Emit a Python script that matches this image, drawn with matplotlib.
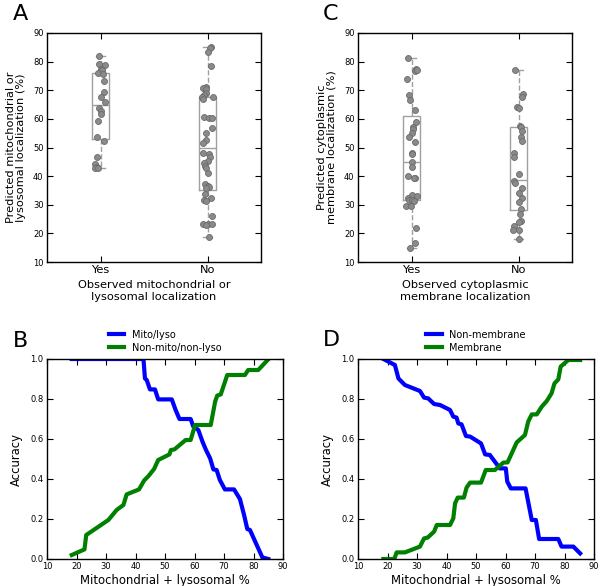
import numpy as np
from matplotlib import pyplot as plt

# panel A: predicted mito/lyso % for observed Yes / No
a_yes = [82, 79.1, 78.9, 77.5, 76.9, 76.2, 75.8, 73.4, 69.3, 67.8, 65.8, 63.7,
         62.8, 61.6, 59.1, 53.6, 52.4, 46.8, 44.1, 43.3, 42.9, 42.9]
a_yes_jit = [-0.01, -0.015, 0.04, 0.005, 0.015, -0.02, 0.02, 0.035, 0.03, 0.0, 0.04, -0.01,
             0.005, 0.0, -0.025, -0.03, 0.035, -0.035, -0.055, -0.035, -0.055, -0.02]
a_no = [85, 84.7, 83.3, 78.3, 71.1, 70.7, 70.4, 69, 68.4, 67.8, 67.8, 66.9, 60.8, 60.2,
        60.2, 56.7, 55.2, 52.6, 51.7, 48, 47.7, 46.6, 45.3, 44.5, 43.6, 42.7, 41.2, 37.1,
        36.6, 36.3, 35.7, 33.6, 32.5, 31.6, 31.4, 26, 23.2, 23.2, 22.8, 23.2, 18.8]
a_no_jit = [0.03, 0.02, 0.005, 0.03, -0.01, -0.045, -0.01, -0.015, -0.035, -0.055, 0.055,
            -0.04, -0.035, 0.01, 0.04, 0.04, -0.01, -0.01, -0.045, -0.04, 0.015, 0.02, 0.005,
            -0.035, -0.025, -0.01, 0.0, -0.025, 0.005, 0.015, -0.01, -0.025, 0.035, -0.035,
            -0.015, 0.045, -0.045, 0.0, -0.01, 0.045, 0.015]

# panel C: predicted cytoplasmic membrane %
c_yes = [81.2, 77.5, 76.8, 76.9, 73.9, 68.4, 66.6, 63.1, 58.8, 57, 56.4, 55, 53.8, 52,
         48.2, 47.7, 44.8, 43.3, 40, 39.5, 39.2, 33.4, 33, 32.2, 31.8, 31.6, 31.3, 29.5,
         29.5, 21.9, 16.8, 15]
c_yes_jit = [-0.035, 0.045, 0.035, 0.05, -0.045, -0.025, -0.01, 0.03, 0.045, 0.01, 0.01,
             0.0, -0.02, 0.035, 0.005, 0.005, 0.005, 0.005, -0.035, 0.035, 0.025, 0.005,
             0.05, -0.035, -0.02, 0.005, 0.02, -0.05, -0.005, 0.045, 0.03, -0.01]
c_no = [76.9, 68.6, 67.8, 64.3, 63.7, 57.5, 57.1, 55.8, 53.8, 52.3, 48, 46.8, 40.9, 38.4,
        37.7, 36, 34.1, 32.2, 30.8, 28.5, 26.7, 24.4, 23.8, 22.5, 21.1, 21.1, 18.2]
c_no_jit = [-0.03, 0.045, 0.035, -0.01, 0.005, 0.01, 0.02, 0.03, 0.02, 0.03, -0.045, -0.045,
            0.0, -0.04, -0.035, 0.03, 0.005, 0.035, 0.0, 0.02, 0.01, 0.02, 0.005, -0.04,
            -0.05, 0.0, 0.0]

# box statistics: [Yes, No]
a_med = [65, 50]
a_q1 = [53, 35.3]
a_q3 = [76, 67.8]
a_lo = [43, 18.8]
a_hi = [82, 85]
c_med = [44.8, 38.5]
c_q1 = [31.8, 28.3]
c_q3 = [61, 57.1]
c_lo = [15, 18.2]
c_hi = [81.2, 76.9]
groups = ['Yes', 'No']

# panel B accuracy curves
b_blue_x = [18.4, 42.7, 43.2, 43.8, 44.9, 46.6, 47.7, 52.3, 53.6, 54.9, 58.7, 59.6, 61.3,
            62.7, 63.9, 65.3, 66.4, 67.5, 68.6, 70.3, 73.4, 75.4, 76.8, 77.9, 78.8, 83.0, 85.0]
b_blue_y = [1.0, 1.0, 0.903, 0.895, 0.848, 0.848, 0.798, 0.798, 0.745, 0.70, 0.70, 0.662,
            0.645, 0.587, 0.545, 0.503, 0.448, 0.445, 0.395, 0.348, 0.348, 0.30, 0.22, 0.15,
            0.145, 0.008, 0.0]
b_green_x = [18.4, 22.7, 23.3, 30.8, 33.6, 35.9, 37.0, 41.2, 42.9, 44.4, 46.3, 47.7, 51.5,
             52.0, 53.2, 57.0, 58.7, 60.2, 65.5, 67.0, 67.7, 68.9, 71.1, 77.1, 78.2, 81.6, 84.8]
b_green_y = [0.02, 0.048, 0.12, 0.195, 0.245, 0.27, 0.323, 0.348, 0.392, 0.415, 0.45, 0.495,
             0.523, 0.545, 0.548, 0.595, 0.595, 0.67, 0.67, 0.787, 0.817, 0.823, 0.92, 0.92,
             0.945, 0.945, 0.995]

# panel D accuracy curves
d_blue_x = [18.6, 22.5, 23.7, 25.9, 31.0, 32.4, 33.8, 35.8, 37.8, 41.2, 42.3, 43.4, 44.0,
            45.1, 46.6, 48.0, 51.7, 53.1, 54.7, 58.1, 60.1, 60.6, 61.8, 66.8, 68.9, 70.3,
            71.4, 77.9, 79.0, 83.0, 85.3]
d_blue_y = [1.0, 0.97, 0.903, 0.87, 0.84, 0.807, 0.803, 0.775, 0.77, 0.745, 0.712, 0.707,
            0.678, 0.673, 0.615, 0.612, 0.578, 0.523, 0.52, 0.453, 0.453, 0.387, 0.353,
            0.353, 0.195, 0.195, 0.10, 0.10, 0.062, 0.062, 0.028]
d_green_x = [18.6, 22.3, 23.1, 25.9, 31.0, 32.4, 33.6, 35.8, 36.7, 41.2, 42.3, 42.9, 43.8,
             45.9, 46.8, 48.0, 51.7, 53.3, 56.4, 59.3, 60.7, 62.1, 63.8, 66.6, 67.7, 68.9,
             70.6, 72.3, 74.0, 75.6, 76.6, 77.9, 78.7, 81.3, 85.3]
d_green_y = [0.0, 0.0, 0.033, 0.033, 0.062, 0.103, 0.107, 0.137, 0.17, 0.17, 0.203, 0.278,
             0.307, 0.307, 0.357, 0.382, 0.382, 0.445, 0.445, 0.482, 0.483, 0.528, 0.583,
             0.62, 0.687, 0.723, 0.723, 0.762, 0.79, 0.828, 0.878, 0.898, 0.962, 0.995, 0.995]

W, H = 600, 586
fig = plt.figure(figsize=(W / 100, H / 100), dpi=100)


def style_axes(ax):
    ax.tick_params(direction='in', top=True, right=True, length=4, labelsize=6, pad=2.5)
    for s in ax.spines.values():
        s.set_linewidth(1.0)


def box_panel(ax, yes, yes_j, no, no_j, med, q1, q3, lo, hi, ylabel, xlabel):
    stats = [dict(med=med[i], q1=q1[i], q3=q3[i], whislo=lo[i], whishi=hi[i],
                  fliers=[], label=groups[i]) for i in range(2)]
    ax.bxp(stats, positions=[1, 2], widths=0.15,
           boxprops=dict(color='#a0a0a0', lw=1.0),
           medianprops=dict(color='#a0a0a0', lw=1.0),
           whiskerprops=dict(color='#a0a0a0', lw=1.0, ls='--'),
           capprops=dict(color='#a0a0a0', lw=1.0))
    for pos, vals, jit in [(1, yes, yes_j), (2, no, no_j)]:
        ax.plot(pos + np.array(jit), vals, 'o', ms=4.3, mfc='#8a8a8a', mec='#6a6a6a',
                mew=0.6, zorder=5)
    ax.set_xlim(0.5, 2.5)
    ax.set_ylim(10, 90)
    ax.set_yticks(np.arange(10, 91, 10))
    ax.set_xticks([1, 2])
    ax.set_xticklabels(groups, fontsize=8.2)
    ax.set_ylabel(ylabel, fontsize=8.2, linespacing=1.05, labelpad=5)
    ax.set_xlabel(xlabel, fontsize=8.2, linespacing=1.25, labelpad=3)


def curve_panel(ax, bx, by, gx, gy, labels):
    ax.plot(bx, by, color='#0000ff', lw=3, label=labels[0])
    ax.plot(gx, gy, color='#008000', lw=3, label=labels[1])
    ax.set_xlim(10, 90)
    ax.set_ylim(0, 1)
    ax.set_xticks(np.arange(10, 91, 10))
    ax.set_yticks(np.arange(0, 1.01, 0.2))
    ax.set_yticklabels(['%.1f' % v for v in np.arange(0, 1.01, 0.2)])
    ax.set_xlabel('Mitochondrial + lysosomal %', fontsize=8.4, labelpad=2)
    ax.set_ylabel('Accuracy', fontsize=8.4, labelpad=5)
    ax.legend(loc='lower center', bbox_to_anchor=(0.5, 1.0), frameon=False, fontsize=7,
              handlelength=1.6, borderaxespad=0.25, labelspacing=0.3)


axA = fig.add_axes([47 / W, 1 - 262 / H, 214 / W, 229 / H])
axC = fig.add_axes([358 / W, 1 - 262 / H, 214 / W, 229 / H])
axB = fig.add_axes([47 / W, 1 - 559 / H, 236 / W, 200 / H])
axD = fig.add_axes([358 / W, 1 - 559 / H, 236 / W, 200 / H])
for ax in [axA, axB, axC, axD]:
    style_axes(ax)

box_panel(axA, a_yes, a_yes_jit, a_no, a_no_jit, a_med, a_q1, a_q3, a_lo, a_hi,
          'Predicted mitochondrial or\nlysosomal localization (%)',
          'Observed mitochondrial or\nlysosomal localization')
box_panel(axC, c_yes, c_yes_jit, c_no, c_no_jit, c_med, c_q1, c_q3, c_lo, c_hi,
          'Predicted cytoplasmic\nmembrane localization (%)',
          'Observed cytoplasmic\nmembrane localization')
curve_panel(axB, b_blue_x, b_blue_y, b_green_x, b_green_y, ['Mito/lyso', 'Non-mito/non-lyso'])
curve_panel(axD, d_blue_x, d_blue_y, d_green_x, d_green_y, ['Non-membrane', 'Membrane'])

for lab, x, y in [('A', 13, 20), ('C', 323, 20), ('B', 13, 347), ('D', 323, 346)]:
    fig.text(x / W, 1 - y / H, lab, fontsize=16, ha='left', va='baseline')

fig.savefig('out.png', dpi=100)
